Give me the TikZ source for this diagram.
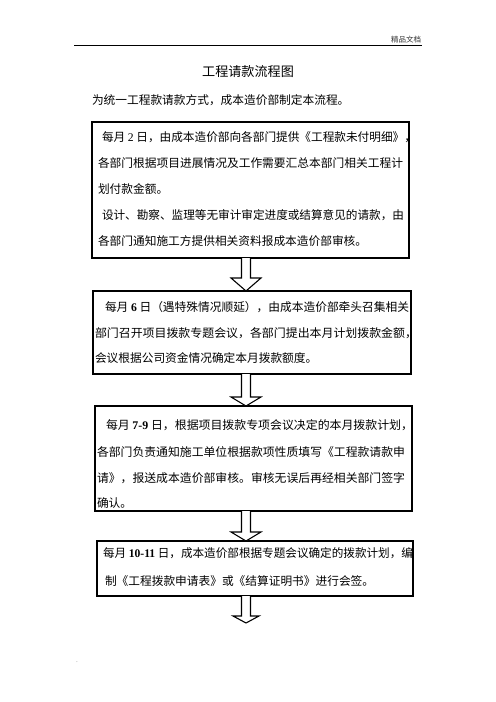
\documentclass[tikz,border=0pt]{standalone}
\usepackage{fontspec}
\usepackage{graphicx}
\setmainfont{Noto Sans CJK SC}
\newfontfamily\lat{Liberation Serif}
\usetikzlibrary{calc}
\newcommand{\fitline}[2]{\resizebox{#1bp}{\height}{#2}}
\newcommand{\blockarrow}[4]{%
  \draw[blk] let \p1=(#1), \p2=(#2) in
    (\x1-4.5bp,\y1) -- (\x1-4.5bp,\y2+#3bp) -- (\x1-#4bp,\y2+#3bp) -- (\x1,\y2)
    -- (\x1+#4bp,\y2+#3bp) -- (\x1+4.5bp,\y2+#3bp) -- (\x1+4.5bp,\y1);}
\begin{document}
\begin{tikzpicture}[x=1bp,y=-1bp,
  box/.style={draw=black, line width=1.2bp, inner sep=0pt, outer sep=0pt},
  ln/.style={anchor=base west, inner sep=0pt, outer sep=0pt, font=\fontsize{11.7bp}{14bp}\selectfont, text=black},
  blk/.style={draw=black, line width=1.1bp, fill=white, line join=miter},
  hdr/.style={inner sep=0pt, outer sep=0pt}]
\useasboundingbox (0,0) rectangle (496,702);
% header
\coordinate (hl) at (74,46);
\coordinate (hr) at (422,46);
\draw[line width=1bp] (hl) -- (hr);
\node[hdr, anchor=base east, font=\fontsize{7.5bp}{9bp}\selectfont, text=black!80] (hdrtext) at (421,43) {精品文档};
% title and intro
\node[hdr, anchor=base, font=\fontsize{13.1bp}{15bp}\selectfont] (title) at (248,76.8) {工程请款流程图};
\node[hdr, anchor=base west, font=\fontsize{11.7bp}{14bp}\selectfont] (intro) at (92,104.4) {为统一工程款请款方式，成本造价部制定本流程。};
% boxes
\node[box, minimum width=317bp, minimum height=136bp] (b1) at (250.5,190) {};
\node[box, minimum width=318bp, minimum height=83bp] (b2) at (252,332.5) {};
\node[box, minimum width=317bp, minimum height=105bp] (b3) at (253.5,458.5) {};
\node[box, minimum width=316bp, minimum height=55bp] (b4) at (255,568.5) {};
% box 1 text
\node[ln] (b1l1) at (102,141.4) {\fitline{314}{每月 {\lat 2} 日，由成本造价部向各部门提供《工程款未付明细》，}};
\node[ln] (b1l2) at (98,167.4) {\fitline{305}{各部门根据项目进展情况及工作需要汇总本部门相关工程计}};
\node[ln] (b1l3) at (98,193.4) {划付款金额。};
\node[ln] (b1l4) at (102,219.4) {\fitline{302}{设计、勘察、监理等无审计审定进度或结算意见的请款，由}};
\node[ln] (b1l5) at (98,245.4) {各部门通知施工方提供相关资料报成本造价部审核。};
% box 2 text
\node[ln] (b2l1) at (105,311.4) {\fitline{304}{每月 {\lat\bfseries 6} 日（遇特殊情况顺延），由成本造价部牵头召集相关}};
\node[ln] (b2l2) at (95,337.4) {\fitline{322}{部门召开项目拨款专题会议，各部门提出本月计划拨款金额，}};
\node[ln] (b2l3) at (95,362.4) {会议根据公司资金情况确定本月拨款额度。};
% box 3 text
\node[ln] (b3l1) at (106,429.4) {\fitline{307}{每月 {\lat\bfseries 7-9} 日，根据项目拨款专项会议决定的本月拨款计划，}};
\node[ln] (b3l2) at (97,456.4) {\fitline{308}{各部门负责通知施工单位根据款项性质填写《工程款请款申}};
\node[ln] (b3l3) at (97,482.4) {\fitline{308}{请》，报送成本造价部审核。审核无误后再经相关部门签字}};
\node[ln] (b3l4) at (97,507.4) {确认。};
% box 4 text
\node[ln] (b4l1) at (103,557.4) {\fitline{310}{每月 {\lat\bfseries 10-11} 日，成本造价部根据专题会议确定的拨款计划，编}};
\node[ln] (b4l2) at (105,585.4) {制《工程拨款申请表》或《结算证明书》进行会签。};
% arrows
\coordinate (ax) at (246,0);
\coordinate (a4end) at (246,623);
\blockarrow{ax |- b1.south}{ax |- b2.north}{13}{15}
\blockarrow{ax |- b2.south}{ax |- b3.north}{9}{15}
\blockarrow{ax |- b3.south}{ax |- b4.north}{9}{15}
\blockarrow{ax |- b4.south}{a4end}{7}{13}
% stray dot
\node[hdr, font=\fontsize{8bp}{9bp}\selectfont, text=black!25] (dot) at (77,662) {.};
\end{tikzpicture}
\end{document}
